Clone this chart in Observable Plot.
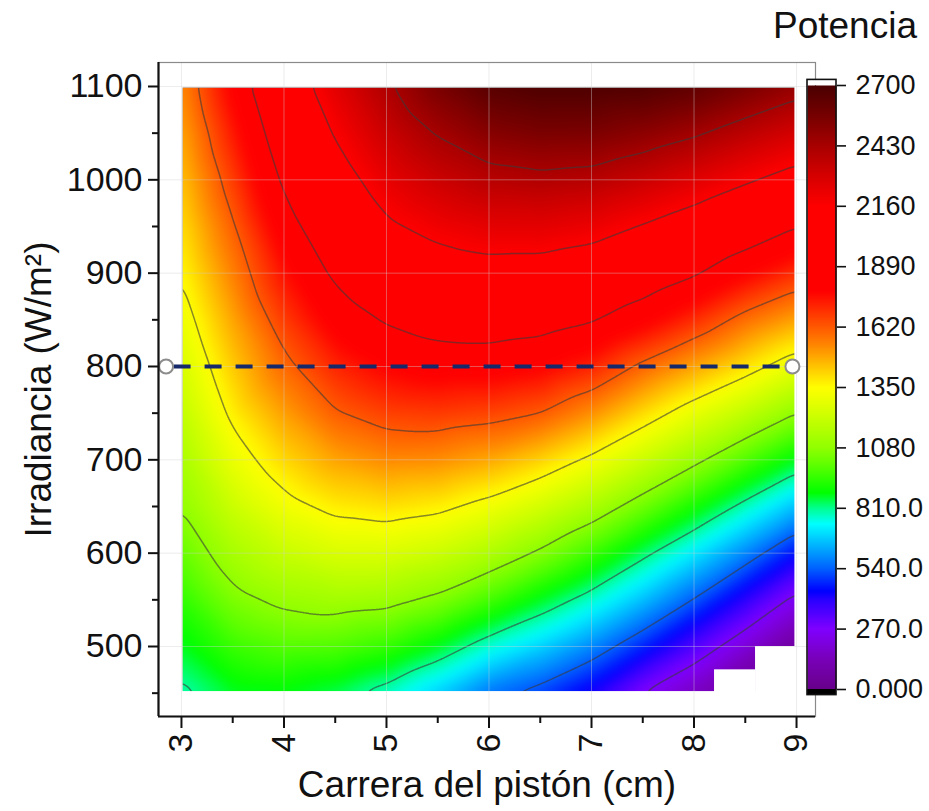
<!DOCTYPE html>
<html>
<head>
<meta charset="utf-8">
<script src="https://cdn.jsdelivr.net/npm/d3@7"></script>
<script src="https://cdn.jsdelivr.net/npm/@observablehq/plot@0.6"></script>
<style>
  body { margin: 0; background: #fff; }
  #wrap { position: relative; width: 929px; height: 811px; font-family: "Liberation Sans", Arial, sans-serif; overflow: hidden; }
  #main, #bar { position: absolute; top: 0; }
  #main { left: 0; }
  #bar { left: 760px; }
  #title { position: absolute; left: 773px; top: 7px; font-size: 37px; line-height: 37px; color: #111; }
</style>
</head>
<body>
<div id="wrap">
  <div id="main"></div>
  <div id="bar"></div>
  <div id="title">Potencia</div>
</div>
<script>
// ---------------- data ----------------
const carrera = [3, 3.5, 4, 4.5, 5, 5.5, 6, 6.5, 7, 7.5, 8, 8.5, 9];            // cm
const irradiancia = [450, 500, 550, 600, 650, 700, 750, 800, 850, 900, 950, 1000, 1050, 1100]; // W/m2
// potencia[i][j] : irradiancia[i], carrera[j]  (null = no data)
const potencia = [
  [ 790,  860,  870,  840,  776,  679,  565,  506,  416,  266,  150, null, null],
  [ 865,  955,  990,  985,  947,  869,  765,  685,  593,  477,  343,  200,   60],
  [ 939, 1051, 1103, 1124, 1112, 1059,  970,  869,  771,  660,  536,  395,  241],
  [1013, 1136, 1210, 1252, 1256, 1219, 1155, 1064,  958,  833,  716,  590,  449],
  [1085, 1218, 1316, 1378, 1398, 1375, 1317, 1239, 1146, 1029,  906,  783,  658],
  [1139, 1300, 1411, 1494, 1535, 1529, 1488, 1421, 1328, 1219, 1106,  986,  869],
  [1193, 1373, 1501, 1611, 1665, 1677, 1658, 1620, 1527, 1407, 1293, 1192, 1080],
  [1247, 1432, 1591, 1714, 1783, 1816, 1816, 1787, 1719, 1597, 1495, 1395, 1288],
  [1301, 1491, 1674, 1816, 1902, 1951, 1965, 1947, 1901, 1809, 1702, 1582, 1493],
  [1355, 1550, 1754, 1914, 2019, 2080, 2105, 2097, 2060, 1990, 1905, 1791, 1695],
  [1401, 1608, 1834, 2001, 2137, 2205, 2244, 2248, 2220, 2152, 2078, 1991, 1894],
  [1445, 1671, 1911, 2087, 2234, 2322, 2382, 2400, 2384, 2328, 2259, 2179, 2099],
  [1490, 1736, 1980, 2172, 2328, 2439, 2520, 2551, 2548, 2504, 2447, 2369, 2293],
  [1535, 1800, 2050, 2250, 2410, 2557, 2657, 2690, 2690, 2679, 2635, 2559, 2483]
];
// blank cells in the lower-right corner
const huecos = [
  {x1: 8.6, x2: 9, y1: 450, y2: 500},
  {x1: 8.2, x2: 8.6, y1: 450, y2: 475}
];
const nivelesContorno = [270, 540, 810, 1080, 1350, 1620, 1890, 2160, 2430];
const xTicks = [3, 4, 5, 6, 7, 8, 9];
const xMinor = [3.5, 4.5, 5.5, 6.5, 7.5, 8.5];
const yTicks = [500, 600, 700, 800, 900, 1000, 1100];
const yMinor = [450, 550, 650, 750, 850, 950, 1050];
const barTicks = [0, 270, 540, 810, 1080, 1350, 1620, 1890, 2160, 2430, 2700];
const refIrradiancia = 800;
const refCarrera = [2.85, 8.96];
// colour map (value -> colour)
const colorStops = [0, 135, 270, 400, 440, 540, 640, 740, 810, 880, 1000, 1080, 1230, 1350, 1450, 1550, 1650, 1780, 2160, 2300, 2430, 2560, 2700];
const colorRamp = ["#68008a", "#7800b8", "#8000ff", "#2a00ff", "#0000ff", "#0060ff", "#00b0ff", "#00ffff", "#00ff90", "#00ff00", "#5cff00", "#90ff00", "#d0ff00", "#ffff00", "#ffc000", "#ff8000", "#ff4800", "#ff0000", "#ff0000", "#d40000", "#a80000", "#780000", "#4a0000"];

// ---------------- build ----------------
const FONT = '"Liberation Sans", Arial, sans-serif';
const puntos = [];
irradiancia.forEach((g, i) => carrera.forEach((c, j) => {
  const v = potencia[i][j];
  if (v != null) puntos.push({c, g, v});
}));
const [xMin, xMax] = d3.extent(carrera);
const [yMin, yMax] = d3.extent(irradiancia);
const xDom = [2.776, 9.185];
const yDom = [425, 1125.7];
const colorOpts = {type: "linear", domain: colorStops, range: colorRamp, interpolate: "rgb", clamp: true};

// white margins between the frame and the data area (overlap the edge slightly)
const ex = 0.016, ey = 1.7;
const mascaras = [
  {x1: xDom[0], x2: xMin + ex, y1: yDom[0], y2: yDom[1]},
  {x1: xMax - ex, x2: xDom[1], y1: yDom[0], y2: yDom[1]},
  {x1: xMin, x2: xMax, y1: yDom[0], y2: yMin + ey},
  {x1: xMin, x2: xMax, y1: yMax - ey, y2: yDom[1]}
];
const campo = {x: "c", y: "g", interpolate: "barycentric",
  x1: xMin, x2: xMax, y1: yMin, y2: yMax, pixelSize: 1, blur: 5};

const main = Plot.plot({
  width: 929, height: 811,
  marginLeft: 158, marginRight: 114, marginTop: 62, marginBottom: 95,
  x: {domain: xDom, label: null},
  y: {domain: yDom, label: null},
  color: colorOpts,
  style: {fontFamily: FONT, background: "transparent", color: "#111"},
  marks: [
    Plot.raster(puntos, {...campo, fill: "v"}),
    Plot.contour(puntos, {...campo, value: "v", thresholds: nivelesContorno,
      fill: "none", stroke: "#3a3a3a", strokeOpacity: 0.6, strokeWidth: 1.5}),
    Plot.rect(mascaras, {x1: "x1", x2: "x2", y1: "y1", y2: "y2", fill: "white"}),
    Plot.rect(huecos, {x1: "x1", x2: "x2", y1: "y1", y2: "y2", fill: "white"}),
    Plot.ruleX(xTicks, {stroke: "#d0d0d0", strokeOpacity: 0.4}),
    Plot.ruleY(yTicks, {stroke: "#d0d0d0", strokeOpacity: 0.4}),
    Plot.frame({stroke: "#8a8a8a", strokeWidth: 1.2}),
    Plot.ruleY([refIrradiancia], {x1: refCarrera[0], x2: refCarrera[1], stroke: "#16296b", strokeWidth: 4, strokeDasharray: "17 14", strokeDashoffset: -8}),
    Plot.dot(refCarrera, {x: d => d, y: () => refIrradiancia, r: 7, fill: "white", stroke: "#8c8c8c", strokeWidth: 2}),
    Plot.ruleX([xDom[0]], {stroke: "#111", strokeWidth: 2.2}),
    Plot.ruleY([yDom[0]], {stroke: "#111", strokeWidth: 2.2}),
    Plot.axisY(yTicks, {tickSize: 10, tickPadding: 6, fontSize: 34, strokeWidth: 2, tickFormat: d3.format("d"), label: null}),
    Plot.axisY(yMinor, {tickSize: 6, tickFormat: () => "", strokeWidth: 2, label: null}),
    Plot.axisX(xTicks, {tickSize: 12, tickPadding: 5, tickRotate: -90, fontSize: 34, strokeWidth: 2, tickFormat: d3.format("d"), label: null}),
    Plot.axisX(xMinor, {tickSize: 7, tickFormat: () => "", strokeWidth: 2, label: null}),
    Plot.text(["Carrera del pistón (cm)"], {frameAnchor: "bottom", dy: 80, fontSize: 37, fill: "#111"}),
    Plot.text(["Irradiancia (W/m²)"], {frameAnchor: "left", dx: -119, rotate: -90, textAnchor: "middle", fontSize: 37, fill: "#111"})
  ]
});
document.getElementById("main").appendChild(main);

const cap = 25;
const bar = Plot.plot({
  width: 169, height: 811,
  marginLeft: 47, marginRight: 93, marginTop: 85, marginBottom: 122,
  x: {domain: [0, 1], axis: null},
  y: {domain: [0, 2700], label: null},
  color: colorOpts,
  style: {fontFamily: FONT, background: "transparent", color: "#111"},
  marks: [
    Plot.raster({x1: 0, x2: 1, y1: 0, y2: 2700, fill: (x, y) => y, pixelSize: 1}),
    Plot.rect([0], {x1: 0, x2: 1, y1: -cap, y2: 0, fill: "black"}),
    Plot.rect([0], {x1: 0, x2: 1, y1: 2700, y2: 2700 + cap, fill: "white"}),
    Plot.rect([0], {x1: 0, x2: 1, y1: -cap, y2: 2700 + cap, fill: "none", stroke: "#111", strokeWidth: 1.6}),
    Plot.axisY(barTicks, {anchor: "right", tickSize: 9, tickPadding: 10, fontSize: 27, strokeWidth: 1.6,
      tickFormat: d3.format(".4r"), label: null})
  ]
});
document.getElementById("bar").appendChild(bar);
</script>
</body>
</html>
